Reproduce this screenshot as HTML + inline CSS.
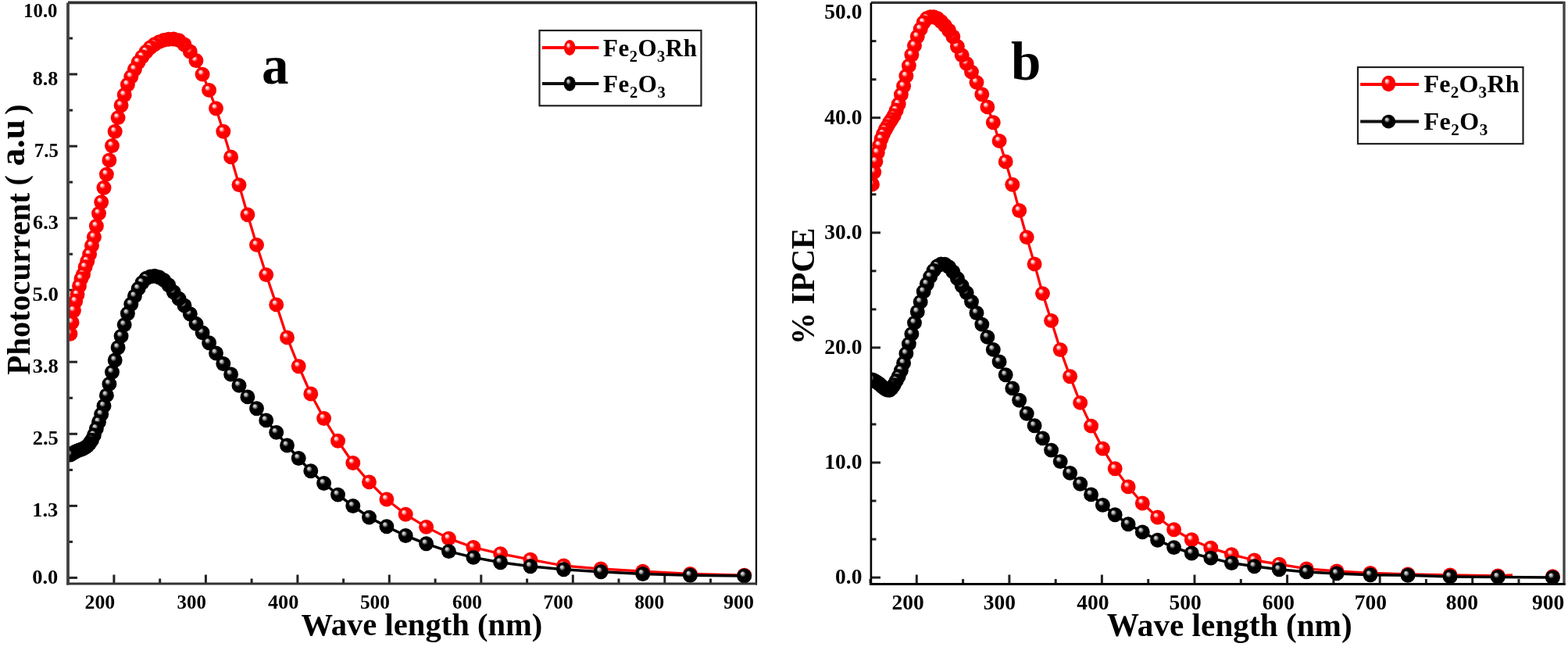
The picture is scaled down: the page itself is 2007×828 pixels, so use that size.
<!DOCTYPE html>
<html><head><meta charset="utf-8"><title>Photocurrent and IPCE</title>
<style>
html,body{margin:0;padding:0;background:#fff;}
svg{display:block;}
text{font-family:"Liberation Serif","Times New Roman",serif;font-weight:bold;fill:#000;}
</style></head><body>
<svg width="2007" height="828" viewBox="0 0 2007 828">
<defs>
<radialGradient id="gr" cx="0.5" cy="0.5" r="0.5" fx="0.34" fy="0.30">
<stop offset="0" stop-color="#fff0f0"/>
<stop offset="0.18" stop-color="#ffc0c0"/>
<stop offset="0.32" stop-color="#ff3a3a"/>
<stop offset="0.42" stop-color="#ff0000"/>
<stop offset="1" stop-color="#f80000"/>
</radialGradient>
<radialGradient id="gk" cx="0.5" cy="0.5" r="0.5" fx="0.34" fy="0.30">
<stop offset="0" stop-color="#e0e0e0"/>
<stop offset="0.18" stop-color="#b4b4b4"/>
<stop offset="0.32" stop-color="#404040"/>
<stop offset="0.42" stop-color="#000"/>
<stop offset="1" stop-color="#000"/>
</radialGradient>
<circle id="mr" r="9.45" fill="url(#gr)"/>
<circle id="mk" r="9.45" fill="url(#gk)"/>
<ellipse id="lr" rx="7.3" ry="10" fill="url(#gr)"/>
<ellipse id="lk" rx="7.6" ry="9.6" fill="url(#gk)"/>
<ellipse id="lr2" rx="9" ry="10.2" fill="url(#gr)"/>
<ellipse id="lk2" rx="9" ry="8.8" fill="url(#gk)"/>
</defs>
<rect width="2007" height="828" fill="#fff"/>

<clipPath id="cl"><rect x="86.5" y="0" width="882" height="749"/></clipPath>
<clipPath id="cr"><rect x="1114.5" y="0" width="889" height="749"/></clipPath>
<path d="M88,739.4 H99" stroke="#222" stroke-width="3"/>
<path d="M88,693.4 H93" stroke="#222" stroke-width="3"/>
<path d="M88,647.4 H99" stroke="#222" stroke-width="3"/>
<path d="M88,601.4 H93" stroke="#222" stroke-width="3"/>
<path d="M88,555.3 H99" stroke="#222" stroke-width="3"/>
<path d="M88,509.3 H93" stroke="#222" stroke-width="3"/>
<path d="M88,463.2 H99" stroke="#222" stroke-width="3"/>
<path d="M88,417.2 H93" stroke="#222" stroke-width="3"/>
<path d="M88,371.2 H99" stroke="#222" stroke-width="3"/>
<path d="M88,325.2 H93" stroke="#222" stroke-width="3"/>
<path d="M88,279.1 H99" stroke="#222" stroke-width="3"/>
<path d="M88,233.1 H93" stroke="#222" stroke-width="3"/>
<path d="M88,187.1 H99" stroke="#222" stroke-width="3"/>
<path d="M88,141.1 H93" stroke="#222" stroke-width="3"/>
<path d="M88,95 H99" stroke="#222" stroke-width="3"/>
<path d="M88,49 H93" stroke="#222" stroke-width="3"/>
<path d="M145.9,746 V735.5" stroke="#222" stroke-width="3"/>
<path d="M87.2,746 V740.5" stroke="#222" stroke-width="3"/>
<path d="M263.4,746 V735.5" stroke="#222" stroke-width="3"/>
<path d="M204.7,746 V740.5" stroke="#222" stroke-width="3"/>
<path d="M380.9,746 V735.5" stroke="#222" stroke-width="3"/>
<path d="M322.1,746 V740.5" stroke="#222" stroke-width="3"/>
<path d="M498.3,746 V735.5" stroke="#222" stroke-width="3"/>
<path d="M439.6,746 V740.5" stroke="#222" stroke-width="3"/>
<path d="M615.8,746 V735.5" stroke="#222" stroke-width="3"/>
<path d="M557.1,746 V740.5" stroke="#222" stroke-width="3"/>
<path d="M733.3,746 V735.5" stroke="#222" stroke-width="3"/>
<path d="M674.6,746 V740.5" stroke="#222" stroke-width="3"/>
<path d="M850.8,746 V735.5" stroke="#222" stroke-width="3"/>
<path d="M792,746 V740.5" stroke="#222" stroke-width="3"/>
<path d="M909.5,746 V740.5" stroke="#222" stroke-width="3"/>
<path d="M1116,739.1 H1127" stroke="#222" stroke-width="3"/>
<path d="M1116,690.1 H1121.5" stroke="#222" stroke-width="3"/>
<path d="M1116,641 H1121.5" stroke="#222" stroke-width="3"/>
<path d="M1116,592 H1127" stroke="#222" stroke-width="3"/>
<path d="M1116,543 H1121.5" stroke="#222" stroke-width="3"/>
<path d="M1116,493.9 H1121.5" stroke="#222" stroke-width="3"/>
<path d="M1116,444.9 H1127" stroke="#222" stroke-width="3"/>
<path d="M1116,395.9 H1121.5" stroke="#222" stroke-width="3"/>
<path d="M1116,346.8 H1121.5" stroke="#222" stroke-width="3"/>
<path d="M1116,297.8 H1127" stroke="#222" stroke-width="3"/>
<path d="M1116,248.8 H1121.5" stroke="#222" stroke-width="3"/>
<path d="M1116,199.7 H1121.5" stroke="#222" stroke-width="3"/>
<path d="M1116,150.7 H1127" stroke="#222" stroke-width="3"/>
<path d="M1116,101.7 H1121.5" stroke="#222" stroke-width="3"/>
<path d="M1116,52.6 H1121.5" stroke="#222" stroke-width="3"/>
<path d="M1173.3,746 V735.5" stroke="#222" stroke-width="3"/>
<path d="M1114,746 V741" stroke="#222" stroke-width="3"/>
<path d="M1291.9,746 V735.5" stroke="#222" stroke-width="3"/>
<path d="M1232.6,746 V741" stroke="#222" stroke-width="3"/>
<path d="M1410.4,746 V735.5" stroke="#222" stroke-width="3"/>
<path d="M1351.2,746 V741" stroke="#222" stroke-width="3"/>
<path d="M1529,746 V735.5" stroke="#222" stroke-width="3"/>
<path d="M1469.7,746 V741" stroke="#222" stroke-width="3"/>
<path d="M1647.6,746 V735.5" stroke="#222" stroke-width="3"/>
<path d="M1588.3,746 V741" stroke="#222" stroke-width="3"/>
<path d="M1766.2,746 V735.5" stroke="#222" stroke-width="3"/>
<path d="M1706.9,746 V741" stroke="#222" stroke-width="3"/>
<path d="M1884.7,746 V735.5" stroke="#222" stroke-width="3"/>
<path d="M1825.4,746 V741" stroke="#222" stroke-width="3"/>
<path d="M1944,746 V741" stroke="#222" stroke-width="3"/>
<g id="left" clip-path="url(#cl)">
<polyline points="89.9,427.2 92.1,412.7 94.4,397.5 96.7,385.5 99,377.1 101.5,366 104,356.6 106.5,351.3 109.1,341.7 111.8,334.2 114.6,325.5 117.5,314.4 120.4,303.4 123.4,289.2 126.5,273.1 129.7,258.7 133,240.2 136.4,223.1 139.9,205 143.5,186.5 147.2,168.3 151.1,150.6 155.1,134.8 159.2,121.5 163.4,108.2 167.8,98.2 172.4,88.7 177.1,79.6 182,72.6 187.1,66.2 192.4,60.8 197.9,56.7 203.6,53.6 209.6,51.4 215.8,50.2 222.2,50 229,51.6 236,57 243.3,66 251,77.6 259.1,95.1 267.6,115.4 276.5,138.7 285.8,168.3 295.6,200.9 306,236.6 316.9,274.8 328.5,313.4 340.7,351.6 353.7,389.9 367.5,431.9 382.2,468.7 397.8,504 414.6,535.5 432.5,564.3 451.8,592.5 472.5,616.9 494.9,639 519.2,658.3 545.6,674.4 574.4,689.1 605.9,700.5 640.6,708.6 678.9,716.2 721.5,724 769.1,728 822.7,731.2 883.4,734.5 952.7,736.2" fill="none" stroke="#ff0000" stroke-width="3.3" stroke-linejoin="round"/>
<use href="#mr" x="952.7" y="736.2"/>
<use href="#mr" x="883.4" y="734.5"/>
<use href="#mr" x="822.7" y="731.2"/>
<use href="#mr" x="769.1" y="728"/>
<use href="#mr" x="721.5" y="724"/>
<use href="#mr" x="678.9" y="716.2"/>
<use href="#mr" x="640.6" y="708.6"/>
<use href="#mr" x="605.9" y="700.5"/>
<use href="#mr" x="574.4" y="689.1"/>
<use href="#mr" x="545.6" y="674.4"/>
<use href="#mr" x="519.2" y="658.3"/>
<use href="#mr" x="494.9" y="639"/>
<use href="#mr" x="472.5" y="616.9"/>
<use href="#mr" x="451.8" y="592.5"/>
<use href="#mr" x="432.5" y="564.3"/>
<use href="#mr" x="414.6" y="535.5"/>
<use href="#mr" x="397.8" y="504"/>
<use href="#mr" x="382.2" y="468.7"/>
<use href="#mr" x="367.5" y="431.9"/>
<use href="#mr" x="353.7" y="389.9"/>
<use href="#mr" x="340.7" y="351.6"/>
<use href="#mr" x="328.5" y="313.4"/>
<use href="#mr" x="316.9" y="274.8"/>
<use href="#mr" x="306" y="236.6"/>
<use href="#mr" x="295.6" y="200.9"/>
<use href="#mr" x="285.8" y="168.3"/>
<use href="#mr" x="276.5" y="138.7"/>
<use href="#mr" x="267.6" y="115.4"/>
<use href="#mr" x="259.1" y="95.1"/>
<use href="#mr" x="251" y="77.6"/>
<use href="#mr" x="243.3" y="66"/>
<use href="#mr" x="236" y="57"/>
<use href="#mr" x="229" y="51.6"/>
<use href="#mr" x="222.2" y="50"/>
<use href="#mr" x="215.8" y="50.2"/>
<use href="#mr" x="209.6" y="51.4"/>
<use href="#mr" x="203.6" y="53.6"/>
<use href="#mr" x="197.9" y="56.7"/>
<use href="#mr" x="192.4" y="60.8"/>
<use href="#mr" x="187.1" y="66.2"/>
<use href="#mr" x="182" y="72.6"/>
<use href="#mr" x="177.1" y="79.6"/>
<use href="#mr" x="172.4" y="88.7"/>
<use href="#mr" x="167.8" y="98.2"/>
<use href="#mr" x="163.4" y="108.2"/>
<use href="#mr" x="159.2" y="121.5"/>
<use href="#mr" x="155.1" y="134.8"/>
<use href="#mr" x="151.1" y="150.6"/>
<use href="#mr" x="147.2" y="168.3"/>
<use href="#mr" x="143.5" y="186.5"/>
<use href="#mr" x="139.9" y="205"/>
<use href="#mr" x="136.4" y="223.1"/>
<use href="#mr" x="133" y="240.2"/>
<use href="#mr" x="129.7" y="258.7"/>
<use href="#mr" x="126.5" y="273.1"/>
<use href="#mr" x="123.4" y="289.2"/>
<use href="#mr" x="120.4" y="303.4"/>
<use href="#mr" x="117.5" y="314.4"/>
<use href="#mr" x="114.6" y="325.5"/>
<use href="#mr" x="111.8" y="334.2"/>
<use href="#mr" x="109.1" y="341.7"/>
<use href="#mr" x="106.5" y="351.3"/>
<use href="#mr" x="104" y="356.6"/>
<use href="#mr" x="101.5" y="366"/>
<use href="#mr" x="99" y="377.1"/>
<use href="#mr" x="96.7" y="385.5"/>
<use href="#mr" x="94.4" y="397.5"/>
<use href="#mr" x="92.1" y="412.7"/>
<use href="#mr" x="89.9" y="427.2"/>
<polyline points="89.9,582 92.1,580.9 94.4,579.3 96.7,578 99,576.9 101.5,575.9 104,575.1 106.5,574.1 109.1,572.6 111.8,570.6 114.6,567.5 117.5,563.2 120.4,556.9 123.4,548.6 126.5,540 129.7,530.3 133,519.4 136.4,505.9 139.9,491.4 143.5,476.3 147.2,461 151.1,444.7 155.1,430.1 159.2,415.6 163.4,401.2 167.8,389.3 172.4,378.9 177.1,369.4 182,361.7 187.1,356.2 192.4,353.9 197.9,353.3 203.6,354.7 209.6,358.4 215.8,364.8 222.2,373.7 229,382.2 236,391 243.3,401.8 251,414.4 259.1,425.7 267.6,438.8 276.5,452 285.8,465.5 295.6,479 306,493.4 316.9,507.9 328.5,522.7 340.7,537.9 353.7,553.4 367.5,570 382.2,586.5 397.8,602.7 414.6,618.5 432.5,633.1 451.8,647.5 472.5,662.1 494.9,673.8 519.2,685.5 545.6,695.8 574.4,705.6 605.9,713.4 640.6,719.7 678.9,724.8 721.5,728.8 769.1,731.7 822.7,734.5 883.4,736.2 952.7,737" fill="none" stroke="#000" stroke-width="3.5" stroke-linejoin="round"/>
<use href="#mk" x="952.7" y="737"/>
<use href="#mk" x="883.4" y="736.2"/>
<use href="#mk" x="822.7" y="734.5"/>
<use href="#mk" x="769.1" y="731.7"/>
<use href="#mk" x="721.5" y="728.8"/>
<use href="#mk" x="678.9" y="724.8"/>
<use href="#mk" x="640.6" y="719.7"/>
<use href="#mk" x="605.9" y="713.4"/>
<use href="#mk" x="574.4" y="705.6"/>
<use href="#mk" x="545.6" y="695.8"/>
<use href="#mk" x="519.2" y="685.5"/>
<use href="#mk" x="494.9" y="673.8"/>
<use href="#mk" x="472.5" y="662.1"/>
<use href="#mk" x="451.8" y="647.5"/>
<use href="#mk" x="432.5" y="633.1"/>
<use href="#mk" x="414.6" y="618.5"/>
<use href="#mk" x="397.8" y="602.7"/>
<use href="#mk" x="382.2" y="586.5"/>
<use href="#mk" x="367.5" y="570"/>
<use href="#mk" x="353.7" y="553.4"/>
<use href="#mk" x="340.7" y="537.9"/>
<use href="#mk" x="328.5" y="522.7"/>
<use href="#mk" x="316.9" y="507.9"/>
<use href="#mk" x="306" y="493.4"/>
<use href="#mk" x="295.6" y="479"/>
<use href="#mk" x="285.8" y="465.5"/>
<use href="#mk" x="276.5" y="452"/>
<use href="#mk" x="267.6" y="438.8"/>
<use href="#mk" x="259.1" y="425.7"/>
<use href="#mk" x="251" y="414.4"/>
<use href="#mk" x="243.3" y="401.8"/>
<use href="#mk" x="236" y="391"/>
<use href="#mk" x="229" y="382.2"/>
<use href="#mk" x="222.2" y="373.7"/>
<use href="#mk" x="215.8" y="364.8"/>
<use href="#mk" x="209.6" y="358.4"/>
<use href="#mk" x="203.6" y="354.7"/>
<use href="#mk" x="197.9" y="353.3"/>
<use href="#mk" x="192.4" y="353.9"/>
<use href="#mk" x="187.1" y="356.2"/>
<use href="#mk" x="182" y="361.7"/>
<use href="#mk" x="177.1" y="369.4"/>
<use href="#mk" x="172.4" y="378.9"/>
<use href="#mk" x="167.8" y="389.3"/>
<use href="#mk" x="163.4" y="401.2"/>
<use href="#mk" x="159.2" y="415.6"/>
<use href="#mk" x="155.1" y="430.1"/>
<use href="#mk" x="151.1" y="444.7"/>
<use href="#mk" x="147.2" y="461"/>
<use href="#mk" x="143.5" y="476.3"/>
<use href="#mk" x="139.9" y="491.4"/>
<use href="#mk" x="136.4" y="505.9"/>
<use href="#mk" x="133" y="519.4"/>
<use href="#mk" x="129.7" y="530.3"/>
<use href="#mk" x="126.5" y="540"/>
<use href="#mk" x="123.4" y="548.6"/>
<use href="#mk" x="120.4" y="556.9"/>
<use href="#mk" x="117.5" y="563.2"/>
<use href="#mk" x="114.6" y="567.5"/>
<use href="#mk" x="111.8" y="570.6"/>
<use href="#mk" x="109.1" y="572.6"/>
<use href="#mk" x="106.5" y="574.1"/>
<use href="#mk" x="104" y="575.1"/>
<use href="#mk" x="101.5" y="575.9"/>
<use href="#mk" x="99" y="576.9"/>
<use href="#mk" x="96.7" y="578"/>
<use href="#mk" x="94.4" y="579.3"/>
<use href="#mk" x="92.1" y="580.9"/>
<use href="#mk" x="89.9" y="582"/>
</g>
<g id="right" clip-path="url(#cr)">
<polyline points="1116.5,235.9 1118.7,220.2 1120.9,206.7 1123.3,195.4 1125.7,186.1 1128.1,177.8 1130.6,171.4 1133.2,166 1135.8,161.6 1138.6,156.7 1141.4,152.6 1144.2,147.9 1147.2,141.2 1150.2,133.3 1153.4,121.1 1156.6,110.3 1159.9,97.3 1163.4,84.1 1166.9,70.3 1170.5,58.4 1174.3,46.8 1178.2,37.2 1182.2,28.8 1186.4,23.5 1190.7,21.8 1195.1,21.7 1199.7,23.5 1204.5,27.5 1209.4,32.6 1214.6,39 1219.9,47 1225.4,59.5 1231.2,70.6 1237.2,81.4 1243.5,92.1 1250,105.4 1256.8,120.8 1263.9,136.9 1271.3,156.7 1279.1,180.4 1287.2,206.9 1295.8,236.3 1304.7,269.5 1314.2,303.6 1324.1,337.9 1334.5,375.6 1345.6,410.4 1357.2,447.6 1369.6,481.7 1382.7,515.4 1396.6,545.1 1411.4,574.1 1427.2,599.7 1444.1,622.9 1462.3,644 1481.7,662 1502.6,677.8 1525.3,690.7 1549.8,701.3 1576.4,709.6 1605.5,717 1637.3,722.2 1672.3,727.9 1711,730.9 1754,733.4 1802,735 1856.1,736 1917.3,737 1936,736" fill="none" stroke="#ff0000" stroke-width="3.3" stroke-linejoin="round"/>
<use href="#mr" x="1987.4" y="737.6"/>
<use href="#mr" x="1917.3" y="737"/>
<use href="#mr" x="1856.1" y="736"/>
<use href="#mr" x="1802" y="735"/>
<use href="#mr" x="1754" y="733.4"/>
<use href="#mr" x="1711" y="730.9"/>
<use href="#mr" x="1672.3" y="727.9"/>
<use href="#mr" x="1637.3" y="722.2"/>
<use href="#mr" x="1605.5" y="717"/>
<use href="#mr" x="1576.4" y="709.6"/>
<use href="#mr" x="1549.8" y="701.3"/>
<use href="#mr" x="1525.3" y="690.7"/>
<use href="#mr" x="1502.6" y="677.8"/>
<use href="#mr" x="1481.7" y="662"/>
<use href="#mr" x="1462.3" y="644"/>
<use href="#mr" x="1444.1" y="622.9"/>
<use href="#mr" x="1427.2" y="599.7"/>
<use href="#mr" x="1411.4" y="574.1"/>
<use href="#mr" x="1396.6" y="545.1"/>
<use href="#mr" x="1382.7" y="515.4"/>
<use href="#mr" x="1369.6" y="481.7"/>
<use href="#mr" x="1357.2" y="447.6"/>
<use href="#mr" x="1345.6" y="410.4"/>
<use href="#mr" x="1334.5" y="375.6"/>
<use href="#mr" x="1324.1" y="337.9"/>
<use href="#mr" x="1314.2" y="303.6"/>
<use href="#mr" x="1304.7" y="269.5"/>
<use href="#mr" x="1295.8" y="236.3"/>
<use href="#mr" x="1287.2" y="206.9"/>
<use href="#mr" x="1279.1" y="180.4"/>
<use href="#mr" x="1271.3" y="156.7"/>
<use href="#mr" x="1263.9" y="136.9"/>
<use href="#mr" x="1256.8" y="120.8"/>
<use href="#mr" x="1250" y="105.4"/>
<use href="#mr" x="1243.5" y="92.1"/>
<use href="#mr" x="1237.2" y="81.4"/>
<use href="#mr" x="1231.2" y="70.6"/>
<use href="#mr" x="1225.4" y="59.5"/>
<use href="#mr" x="1219.9" y="47"/>
<use href="#mr" x="1214.6" y="39"/>
<use href="#mr" x="1209.4" y="32.6"/>
<use href="#mr" x="1204.5" y="27.5"/>
<use href="#mr" x="1199.7" y="23.5"/>
<use href="#mr" x="1195.1" y="21.7"/>
<use href="#mr" x="1190.7" y="21.8"/>
<use href="#mr" x="1186.4" y="23.5"/>
<use href="#mr" x="1182.2" y="28.8"/>
<use href="#mr" x="1178.2" y="37.2"/>
<use href="#mr" x="1174.3" y="46.8"/>
<use href="#mr" x="1170.5" y="58.4"/>
<use href="#mr" x="1166.9" y="70.3"/>
<use href="#mr" x="1163.4" y="84.1"/>
<use href="#mr" x="1159.9" y="97.3"/>
<use href="#mr" x="1156.6" y="110.3"/>
<use href="#mr" x="1153.4" y="121.1"/>
<use href="#mr" x="1150.2" y="133.3"/>
<use href="#mr" x="1147.2" y="141.2"/>
<use href="#mr" x="1144.2" y="147.9"/>
<use href="#mr" x="1141.4" y="152.6"/>
<use href="#mr" x="1138.6" y="156.7"/>
<use href="#mr" x="1135.8" y="161.6"/>
<use href="#mr" x="1133.2" y="166"/>
<use href="#mr" x="1130.6" y="171.4"/>
<use href="#mr" x="1128.1" y="177.8"/>
<use href="#mr" x="1125.7" y="186.1"/>
<use href="#mr" x="1123.3" y="195.4"/>
<use href="#mr" x="1120.9" y="206.7"/>
<use href="#mr" x="1118.7" y="220.2"/>
<use href="#mr" x="1116.5" y="235.9"/>
<polyline points="1116.5,486 1118.7,487 1120.9,488.3 1123.3,489.8 1125.7,491.5 1128.1,493.7 1130.6,495.9 1133.2,497.9 1135.8,499 1138.6,499.2 1141.4,496.7 1144.2,492.7 1147.2,487.4 1150.2,481.8 1153.4,474.3 1156.6,464.7 1159.9,452.4 1163.4,440.1 1166.9,427.4 1170.5,413.1 1174.3,399 1178.2,386.4 1182.2,373.1 1186.4,363.5 1190.7,354.1 1195.1,346.1 1199.7,340.6 1204.5,338 1209.4,338.3 1214.6,341.6 1219.9,347.9 1225.4,356.4 1231.2,365.8 1237.2,374.6 1243.5,386.1 1250,400.5 1256.8,415.1 1263.9,431.4 1271.3,447.4 1279.1,462.9 1287.2,479.8 1295.8,496.9 1304.7,512.3 1314.2,529.2 1324.1,544.8 1334.5,560.9 1345.6,576.1 1357.2,590.6 1369.6,605.4 1382.7,619.2 1396.6,632.9 1411.4,646.4 1427.2,658.7 1444.1,670.7 1462.3,680.9 1481.7,691.2 1502.6,700.6 1525.3,708 1549.8,714.1 1576.4,720.6 1605.5,724.7 1637.3,728.8 1672.3,731.9 1711,733.9 1754,735.8 1802,736.3 1856.1,737.9 1917.3,738.4 1987.4,738.9" fill="none" stroke="#000" stroke-width="3.5" stroke-linejoin="round"/>
<use href="#mk" x="1987.4" y="738.9"/>
<use href="#mk" x="1917.3" y="738.4"/>
<use href="#mk" x="1856.1" y="737.9"/>
<use href="#mk" x="1802" y="736.3"/>
<use href="#mk" x="1754" y="735.8"/>
<use href="#mk" x="1711" y="733.9"/>
<use href="#mk" x="1672.3" y="731.9"/>
<use href="#mk" x="1637.3" y="728.8"/>
<use href="#mk" x="1605.5" y="724.7"/>
<use href="#mk" x="1576.4" y="720.6"/>
<use href="#mk" x="1549.8" y="714.1"/>
<use href="#mk" x="1525.3" y="708"/>
<use href="#mk" x="1502.6" y="700.6"/>
<use href="#mk" x="1481.7" y="691.2"/>
<use href="#mk" x="1462.3" y="680.9"/>
<use href="#mk" x="1444.1" y="670.7"/>
<use href="#mk" x="1427.2" y="658.7"/>
<use href="#mk" x="1411.4" y="646.4"/>
<use href="#mk" x="1396.6" y="632.9"/>
<use href="#mk" x="1382.7" y="619.2"/>
<use href="#mk" x="1369.6" y="605.4"/>
<use href="#mk" x="1357.2" y="590.6"/>
<use href="#mk" x="1345.6" y="576.1"/>
<use href="#mk" x="1334.5" y="560.9"/>
<use href="#mk" x="1324.1" y="544.8"/>
<use href="#mk" x="1314.2" y="529.2"/>
<use href="#mk" x="1304.7" y="512.3"/>
<use href="#mk" x="1295.8" y="496.9"/>
<use href="#mk" x="1287.2" y="479.8"/>
<use href="#mk" x="1279.1" y="462.9"/>
<use href="#mk" x="1271.3" y="447.4"/>
<use href="#mk" x="1263.9" y="431.4"/>
<use href="#mk" x="1256.8" y="415.1"/>
<use href="#mk" x="1250" y="400.5"/>
<use href="#mk" x="1243.5" y="386.1"/>
<use href="#mk" x="1237.2" y="374.6"/>
<use href="#mk" x="1231.2" y="365.8"/>
<use href="#mk" x="1225.4" y="356.4"/>
<use href="#mk" x="1219.9" y="347.9"/>
<use href="#mk" x="1214.6" y="341.6"/>
<use href="#mk" x="1209.4" y="338.3"/>
<use href="#mk" x="1204.5" y="338"/>
<use href="#mk" x="1199.7" y="340.6"/>
<use href="#mk" x="1195.1" y="346.1"/>
<use href="#mk" x="1190.7" y="354.1"/>
<use href="#mk" x="1186.4" y="363.5"/>
<use href="#mk" x="1182.2" y="373.1"/>
<use href="#mk" x="1178.2" y="386.4"/>
<use href="#mk" x="1174.3" y="399"/>
<use href="#mk" x="1170.5" y="413.1"/>
<use href="#mk" x="1166.9" y="427.4"/>
<use href="#mk" x="1163.4" y="440.1"/>
<use href="#mk" x="1159.9" y="452.4"/>
<use href="#mk" x="1156.6" y="464.7"/>
<use href="#mk" x="1153.4" y="474.3"/>
<use href="#mk" x="1150.2" y="481.8"/>
<use href="#mk" x="1147.2" y="487.4"/>
<use href="#mk" x="1144.2" y="492.7"/>
<use href="#mk" x="1141.4" y="496.7"/>
<use href="#mk" x="1138.6" y="499.2"/>
<use href="#mk" x="1135.8" y="499"/>
<use href="#mk" x="1133.2" y="497.9"/>
<use href="#mk" x="1130.6" y="495.9"/>
<use href="#mk" x="1128.1" y="493.7"/>
<use href="#mk" x="1125.7" y="491.5"/>
<use href="#mk" x="1123.3" y="489.8"/>
<use href="#mk" x="1120.9" y="488.3"/>
<use href="#mk" x="1118.7" y="487"/>
<use href="#mk" x="1116.5" y="486"/>
</g>
<path d="M87,3.4 H968" stroke="#333" stroke-width="3.8" fill="none"/>
<path d="M968,2 V748.5" stroke="#000" stroke-width="2.2" fill="none"/>
<path d="M85,747 H969" stroke="#333" stroke-width="3" fill="none"/>
<path d="M87,3.5 V748.5" stroke="#404040" stroke-width="3.8" fill="none"/>
<path d="M1115,3.4 H2003" stroke="#333" stroke-width="3.4" fill="none"/>
<path d="M2002,2 V749" stroke="#444" stroke-width="3.4" fill="none"/>
<path d="M1113,747.5 H2003.5" stroke="#000" stroke-width="3" fill="none"/>
<path d="M1114.9,3.4 V749" stroke="#000" stroke-width="2.6" fill="none"/>
<text x="41.2" y="746.9" font-size="25" textLength="33.1" lengthAdjust="spacingAndGlyphs">0.0</text>
<text x="41.2" y="661.1" font-size="25" textLength="33.1" lengthAdjust="spacingAndGlyphs">1.3</text>
<text x="41.7" y="569.1" font-size="25" textLength="33.1" lengthAdjust="spacingAndGlyphs">2.5</text>
<text x="41.7" y="477.1" font-size="25" textLength="33.1" lengthAdjust="spacingAndGlyphs">3.8</text>
<text x="41.5" y="385" font-size="25" textLength="33.5" lengthAdjust="spacingAndGlyphs">5.0</text>
<text x="42.1" y="292.9" font-size="25" textLength="32.7" lengthAdjust="spacingAndGlyphs">6.3</text>
<text x="43.8" y="200.9" font-size="25" textLength="31" lengthAdjust="spacingAndGlyphs">7.5</text>
<text x="41.7" y="108.8" font-size="25" textLength="32.5" lengthAdjust="spacingAndGlyphs">8.8</text>
<text x="30.1" y="21.7" font-size="25" textLength="43.4" lengthAdjust="spacingAndGlyphs">10.0</text>
<text x="108.5" y="778.6" font-size="25" textLength="38.8" lengthAdjust="spacingAndGlyphs">200</text>
<text x="226.6" y="778.6" font-size="25" textLength="37.3" lengthAdjust="spacingAndGlyphs">300</text>
<text x="342.9" y="778.6" font-size="25" textLength="39.4" lengthAdjust="spacingAndGlyphs">400</text>
<text x="460.9" y="778.6" font-size="25" textLength="38" lengthAdjust="spacingAndGlyphs">500</text>
<text x="579" y="778.6" font-size="25" textLength="38" lengthAdjust="spacingAndGlyphs">600</text>
<text x="695.6" y="778.6" font-size="25" textLength="38" lengthAdjust="spacingAndGlyphs">700</text>
<text x="812.2" y="778.6" font-size="25" textLength="38" lengthAdjust="spacingAndGlyphs">800</text>
<text x="926" y="778.6" font-size="25" textLength="39" lengthAdjust="spacingAndGlyphs">900</text>
<text x="1103.4" y="747.3" font-size="27.5" text-anchor="end">0.0</text>
<text x="1103.4" y="600.2" font-size="27.5" text-anchor="end">10.0</text>
<text x="1103.4" y="453.1" font-size="27.5" text-anchor="end">20.0</text>
<text x="1103.4" y="306" font-size="27.5" text-anchor="end">30.0</text>
<text x="1103.4" y="158.9" font-size="27.5" text-anchor="end">40.0</text>
<text x="1103.4" y="24.2" font-size="27.5" text-anchor="end">50.0</text>
<text x="1162" y="780.4" font-size="27.5" text-anchor="middle">200</text>
<text x="1279.3" y="780.4" font-size="27.5" text-anchor="middle">300</text>
<text x="1398.9" y="780.4" font-size="27.5" text-anchor="middle">400</text>
<text x="1517.2" y="780.4" font-size="27.5" text-anchor="middle">500</text>
<text x="1636.3" y="780.4" font-size="27.5" text-anchor="middle">600</text>
<text x="1754.3" y="780.4" font-size="27.5" text-anchor="middle">700</text>
<text x="1871.4" y="780.4" font-size="27.5" text-anchor="middle">800</text>
<text x="1981.7" y="780.4" font-size="27.5" text-anchor="middle">900</text>
<rect x="690.5" y="39" width="207" height="96.3" fill="#fff" stroke="#222" stroke-width="2.2"/>
<path d="M694,61 H766.4" stroke="#ff0000" stroke-width="4"/>
<use href="#lr" x="729.2" y="61"/>
<path d="M694,107 H766.4" stroke="#111" stroke-width="4"/>
<use href="#lk" x="729.2" y="107"/>
<text x="772" y="71.8" font-size="31" letter-spacing="0.5">Fe<tspan font-size="20.5" dy="7">2</tspan><tspan dy="-7">O</tspan><tspan font-size="20.5" dy="7">3</tspan><tspan dy="-7">Rh</tspan></text>
<text x="772" y="118.3" font-size="31" letter-spacing="0.6">Fe<tspan font-size="20.5" dy="7">2</tspan><tspan dy="-7">O</tspan><tspan font-size="20.5" dy="7">3</tspan></text>
<rect x="1738" y="86" width="211.5" height="98" fill="#fff" stroke="#222" stroke-width="2.2"/>
<path d="M1741.2,108 H1816.1" stroke="#ff0000" stroke-width="4"/>
<use href="#lr2" x="1777.3" y="107"/>
<path d="M1741.2,155.6 H1816.1" stroke="#111" stroke-width="4"/>
<use href="#lk2" x="1777.3" y="155.6"/>
<text x="1822.5" y="117.9" font-size="32" letter-spacing="0.22">Fe<tspan font-size="21.1" dy="7">2</tspan><tspan dy="-7">O</tspan><tspan font-size="21.1" dy="7">3</tspan><tspan dy="-7">Rh</tspan></text>
<text x="1822.5" y="165.8" font-size="32" letter-spacing="0.5">Fe<tspan font-size="21.1" dy="7">2</tspan><tspan dy="-7">O</tspan><tspan font-size="21.1" dy="7">3</tspan></text>
<text x="335" y="107" font-size="69">a</text>
<text x="1294" y="102" font-size="69">b</text>
<text x="385.4" y="813" font-size="41" textLength="309" lengthAdjust="spacingAndGlyphs">Wave length (nm)</text>
<text x="1416.8" y="814" font-size="41.3" textLength="313.9" lengthAdjust="spacingAndGlyphs">Wave length (nm)</text>
<text transform="translate(37.7,479.8) rotate(-90)" font-size="43" textLength="233" lengthAdjust="spacingAndGlyphs">Photocurrent</text>
<text transform="translate(34.3,237.4) rotate(-90)" font-size="40">(</text>
<text transform="translate(30.9,212.5) rotate(-90)" font-size="46" textLength="59.5" lengthAdjust="spacingAndGlyphs">a.u</text>
<text transform="translate(34.3,146.8) rotate(-90)" font-size="40">)</text>
<text transform="translate(1041.6,441) rotate(-90)" font-size="43" textLength="149.5" lengthAdjust="spacingAndGlyphs">% IPCE</text>
</svg>
</body></html>
